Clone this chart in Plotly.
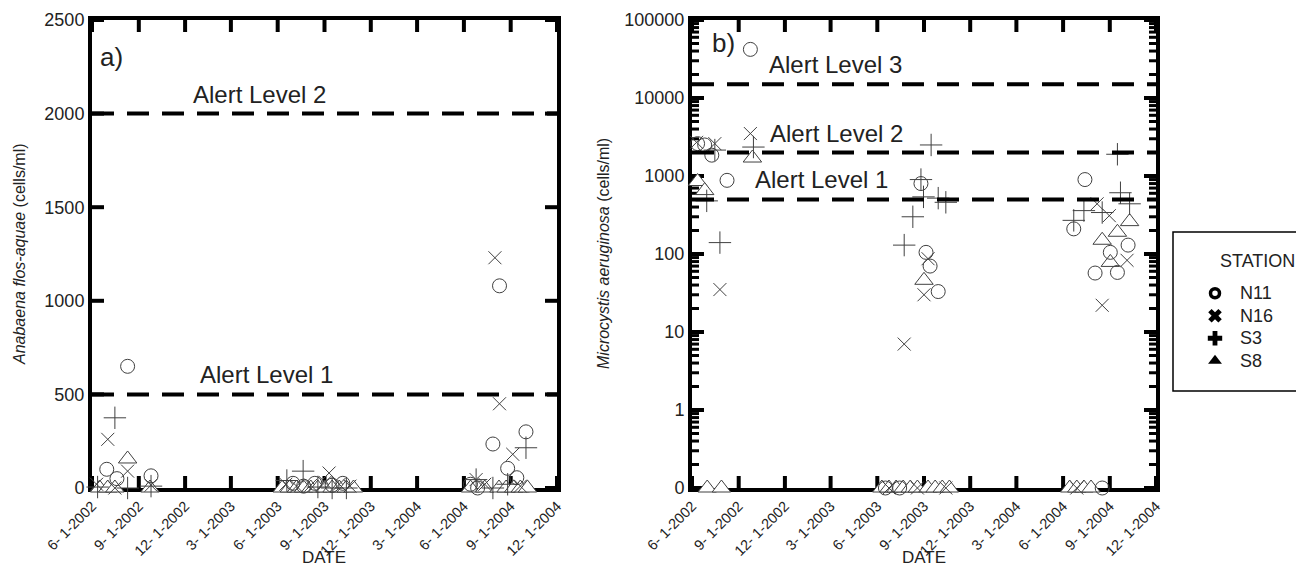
import math
import plotly.graph_objects as go

W, H = 1296, 569

# ---------------- tick labels ----------------
tick_dates = ["2002-06-01", "2002-09-01", "2002-12-01", "2003-03-01", "2003-06-01", "2003-09-01",
              "2003-12-01", "2004-03-01", "2004-06-01", "2004-09-01", "2004-12-01"]
tick_text = ["6- 1-2002", "9- 1-2002", "12- 1-2002", "3- 1-2003", "6- 1-2003", "9- 1-2003",
             "12- 1-2003", "3- 1-2004", "6- 1-2004", "9- 1-2004", "12- 1-2004"]
left_yticks = [0, 500, 1000, 1500, 2000, 2500]
right_yticks = [0.1, 1, 10, 100, 1000, 10000, 100000]
right_ytext = ["0", "1", "10", "100", "1000", "10000", "100000"]
right_minor_mult = [2, 3, 4, 5, 6, 7, 8, 9]

# ---------------- alert levels ----------------
left_alerts = [500, 2000]
left_alert_labels = ["Alert Level 1", "Alert Level 2"]
right_alerts = [500, 2000, 15000]
right_alert_labels = ["Alert Level 1", "Alert Level 2", "Alert Level 3"]

# ---------------- a) Anabaena flos-aquae (cells/ml) ----------------
a_n11_dates = ["2002-06-30", "2002-07-20", "2002-08-10", "2002-09-25",
               "2003-07-01", "2003-07-22", "2003-08-13", "2003-09-16", "2003-10-07",
               "2004-06-14", "2004-06-28", "2004-07-28", "2004-08-10", "2004-08-26", "2004-09-13", "2004-10-01"]
a_n11_vals = [100, 50, 650, 65,
              25, 10, 25, 15, 25,
              20, 0, 235, 1080, 105, 55, 300]

a_n16_dates = ["2002-06-10", "2002-07-02", "2002-07-16", "2002-08-10", "2002-09-25",
               "2003-06-17", "2003-07-08", "2003-08-05", "2003-09-02", "2003-09-10", "2003-09-30", "2003-10-21",
               "2004-06-25", "2004-07-12", "2004-08-01", "2004-08-10", "2004-09-05", "2004-09-20"]
a_n16_vals = [20, 260, 0, 90, 15,
              20, 10, 15, 30, 80, 20, 10,
              45, 20, 1230, 450, 180, 10]

a_s3_dates = ["2002-06-12", "2002-07-16", "2002-08-10", "2002-09-25",
              "2003-06-19", "2003-07-21", "2003-08-19", "2003-09-16", "2003-10-14",
              "2004-06-25", "2004-07-28", "2004-08-26", "2004-10-01"]
a_s3_vals = [5, 375, 0, 10,
             40, 90, 5, 0, 0,
             45, 0, 20, 215]

a_s8_dates = ["2002-06-16", "2002-07-02", "2002-07-16", "2002-08-10", "2002-09-23",
              "2003-06-10", "2003-06-24", "2003-07-08", "2003-07-22", "2003-08-05", "2003-08-19",
              "2003-09-02", "2003-09-16", "2003-09-30", "2003-10-14", "2003-10-28",
              "2004-06-14", "2004-07-12", "2004-08-09", "2004-08-23", "2004-09-07", "2004-09-20", "2004-10-04"]
a_s8_vals = [0, 0, 0, 155, 0,
             0, 0, 0, 0, 0, 0,
             0, 0, 0, 0, 0,
             0, 0, 0, 0, 0, 0, 0]

# ---------------- b) Microcystis aeruginosa (cells/ml) ----------------
b_n11_dates = ["2002-06-12", "2002-06-26", "2002-07-10", "2002-08-09", "2002-09-24",
               "2003-06-17", "2003-07-15", "2003-08-26", "2003-09-05", "2003-09-13", "2003-09-29",
               "2004-06-22", "2004-07-14", "2004-08-03", "2004-08-17", "2004-09-02", "2004-09-16", "2004-10-07"]
b_n11_vals = [2600, 2500, 1850, 880, 42000,
              0, 0, 800, 105, 70, 33,
              210, 900, 57, 0, 105, 58, 130]

b_n16_dates = ["2002-06-10", "2002-07-26", "2002-07-16", "2002-09-24",
               "2003-06-24", "2003-07-24", "2003-08-19", "2003-09-01", "2003-09-09", "2003-10-14",
               "2004-06-28", "2004-08-07", "2004-08-17", "2004-08-31", "2004-10-05"]
b_n16_vals = [2700, 35, 2600, 3500,
              0, 7, 0, 30, 87, 0,
              0, 440, 22, 310, 83]

b_s3_dates = ["2002-06-30", "2002-07-16", "2002-07-26", "2002-09-30",
              "2003-07-24", "2003-08-10", "2003-08-26", "2003-08-31", "2003-09-15", "2003-09-29", "2003-10-14",
              "2004-06-22", "2004-07-12", "2004-08-17", "2004-09-16", "2004-09-22", "2004-10-10"]
b_s3_vals = [480, 2150, 140, 2350,
             130, 300, 900, 540, 2500, 520, 460,
             270, 360, 340, 1900, 610, 440]

b_s8_dates = ["2002-06-12", "2002-06-26", "2002-07-01", "2002-07-29", "2002-09-28",
              "2003-06-10", "2003-06-24", "2003-07-08", "2003-07-22", "2003-08-05", "2003-08-19",
              "2003-09-01", "2003-09-09", "2003-09-23", "2003-10-07", "2003-10-21",
              "2004-06-14", "2004-06-28", "2004-07-12", "2004-07-26",
              "2004-08-17", "2004-09-02", "2004-09-16", "2004-10-10"]
b_s8_vals = [850, 650, 0, 0, 1700,
             0, 0, 0, 0, 0, 0,
             46, 0, 0, 0, 0,
             0, 0, 0, 0,
             150, 78, 190, 260]

stations = ["N11", "N16", "S3", "S8"]

# ---------------- styling ----------------
FONT = "Liberation Sans, Arial, Helvetica, sans-serif"
TXT = "#222222"
MK = "#404040"

def px_x(p):
    return p / W

def px_y(p):
    return 1 - p / H

# plot areas in pixels
L_X0, L_X1 = 92, 557
R_X0, R_X1 = 692, 1156
Y_TOP, Y_BOT = 20, 488

marker_styles = {
    "N11": dict(symbol="circle-open", size=14, color=MK, line=dict(width=1, color=MK)),
    "N16": dict(symbol="x-thin-open", size=13, color=MK, line=dict(width=1, color=MK)),
    "S3": dict(symbol="cross-thin-open", size=16, color=MK, line=dict(width=1, color=MK)),
    "S8": dict(symbol="triangle-up", size=16, color="white", line=dict(width=1, color=MK)),
}

fig = go.Figure()

left_data = {
    "N11": (a_n11_dates, a_n11_vals),
    "N16": (a_n16_dates, a_n16_vals),
    "S3": (a_s3_dates, a_s3_vals),
    "S8": (a_s8_dates, a_s8_vals),
}
right_data = {
    "N11": (b_n11_dates, b_n11_vals),
    "N16": (b_n16_dates, b_n16_vals),
    "S3": (b_s3_dates, b_s3_vals),
    "S8": (b_s8_dates, b_s8_vals),
}

for st in ["S8", "N11", "N16", "S3"]:
    d, v = left_data[st]
    fig.add_trace(go.Scatter(x=d, y=v, mode="markers", marker=marker_styles[st],
                             xaxis="x", yaxis="y", showlegend=False, cliponaxis=False,
                             hoverinfo="skip"))
for st in ["S8", "N11", "N16", "S3"]:
    d, v = right_data[st]
    vv = [val if val > 0 else 0.1 for val in v]  # zero values drawn on the "0" baseline
    fig.add_trace(go.Scatter(x=d, y=vv, mode="markers", marker=marker_styles[st],
                             xaxis="x2", yaxis="y2", showlegend=False, cliponaxis=False,
                             hoverinfo="skip"))

# legend entries (bold black symbols)
legend_styles = {
    "N11": dict(symbol="circle-open", size=9, color="black", line=dict(width=3.5, color="black")),
    "N16": dict(symbol="x", size=12, color="black", line=dict(width=0)),
    "S3": dict(symbol="cross", size=12, color="black", line=dict(width=0)),
    "S8": dict(symbol="triangle-up", size=12, color="black", line=dict(width=0)),
}
for st in stations:
    fig.add_trace(go.Scatter(x=[None], y=[None], mode="markers",
                             name="<span style='font-size:18px'>\u00a0" + st + "</span>",
                             marker=legend_styles[st], xaxis="x", yaxis="y", showlegend=True))

axis_common = dict(showline=True, linewidth=4, linecolor="black", mirror=True,
                   ticks="", showgrid=False, zeroline=False, layer="below traces",
                   tickfont=dict(family=FONT, size=18, color=TXT))

xcommon = dict(axis_common)
xcommon.update(type="date", tickmode="array", tickvals=tick_dates, ticktext=tick_text,
               tickangle=-45, range=["2002-06-01", "2004-12-01"],
               tickfont=dict(family=FONT, size=14.5, color=TXT))

fig.update_layout(
    width=W, height=H,
    margin=dict(l=0, r=0, t=0, b=0, autoexpand=False),
    paper_bgcolor="white", plot_bgcolor="white",
    font=dict(family=FONT, color=TXT),
    xaxis=dict(xcommon, domain=[px_x(L_X0), px_x(L_X1)], anchor="y"),
    yaxis=dict(axis_common, domain=[px_y(Y_BOT), px_y(Y_TOP)], anchor="x",
               range=[0, 2500], tickmode="array", tickvals=left_yticks),
    xaxis2=dict(xcommon, domain=[px_x(R_X0), px_x(R_X1)], anchor="y2"),
    yaxis2=dict(axis_common, domain=[px_y(Y_BOT), px_y(Y_TOP)], anchor="x2",
                type="log", range=[-1, 5], tickmode="array", tickvals=right_yticks,
                ticktext=right_ytext),
    legend=dict(x=px_x(1195), y=px_y(277), xanchor="left", yanchor="top",
                bgcolor="rgba(0,0,0,0)", borderwidth=0,
                font=dict(family=FONT, size=15, color=TXT),
                itemsizing="trace", tracegroupgap=0),
    showlegend=True,
)

# ---------------- inward tick marks (both sides, like the original frame) ----------------
shapes = []
MAJ, MIN_ = 12, 7
lw_x = L_X1 - L_X0
rw_x = R_X1 - R_X0
h_y = Y_BOT - Y_TOP

def tick(xref, yref, x0, x1, y0, y1, w):
    shapes.append(dict(type="line", xref=xref, yref=yref, x0=x0, x1=x1, y0=y0, y1=y1,
                       line=dict(color="black", width=w), layer="below"))

for xa, ya in [("x", "y"), ("x2", "y2")]:
    for d in tick_dates:
        tick(xa, ya + " domain", d, d, 0, MAJ / h_y, 4)
        tick(xa, ya + " domain", d, d, 1, 1 - MAJ / h_y, 4)
for v in left_yticks:
    tick("x domain", "y", 0, MAJ / lw_x, v, v, 4)
    tick("x domain", "y", 1, 1 - MAJ / lw_x, v, v, 4)
for v in right_yticks:
    tick("x2 domain", "y2", 0, MAJ / rw_x, v, v, 4)
    tick("x2 domain", "y2", 1, 1 - MAJ / rw_x, v, v, 4)
for dec in right_yticks[:-1]:
    for m in right_minor_mult:
        v = dec * m
        tick("x2 domain", "y2", 0, MIN_ / rw_x, v, v, 3)
        tick("x2 domain", "y2", 1, 1 - MIN_ / rw_x, v, v, 3)

for lvl in left_alerts:
    shapes.append(dict(type="line", xref="x domain", yref="y", x0=0, x1=1, y0=lvl, y1=lvl,
                       line=dict(color="black", width=4, dash="22px,13px")))
for lvl in right_alerts:
    shapes.append(dict(type="line", xref="x2 domain", yref="y2", x0=0, x1=1, y0=lvl, y1=lvl,
                       line=dict(color="black", width=4, dash="22px,13px")))
# legend frame
shapes.append(dict(type="rect", xref="paper", yref="paper", x0=px_x(1173), x1=px_x(1330),
                   y0=px_y(391), y1=px_y(232), line=dict(color="black", width=1.5),
                   fillcolor="rgba(0,0,0,0)"))
fig.update_layout(shapes=shapes)

ann = []
left_label_x = [0.375, 0.36]
for lvl, lab, fx in zip(left_alerts, left_alert_labels, left_label_x):
    ann.append(dict(xref="x domain", yref="y", x=fx, y=lvl, text=lab, showarrow=False,
                    xanchor="center", yanchor="bottom", yshift=4,
                    font=dict(family=FONT, size=24, color=TXT)))
right_label_x = [0.28, 0.312, 0.31]
for lvl, lab, fx in zip(right_alerts, right_alert_labels, right_label_x):
    ann.append(dict(xref="x2 domain", yref="y2", x=fx, y=math.log10(lvl), text=lab, showarrow=False,
                    xanchor="center", yanchor="bottom", yshift=4,
                    font=dict(family=FONT, size=24, color=TXT)))
ann.append(dict(xref="x domain", yref="y domain", x=0.013, y=0.921, text="a)", showarrow=False,
                xanchor="left", yanchor="middle", font=dict(family=FONT, size=26, color=TXT)))
ann.append(dict(xref="x2 domain", yref="y2 domain", x=0.039, y=0.951, text="b)", showarrow=False,
                xanchor="left", yanchor="middle", font=dict(family=FONT, size=26, color=TXT)))
ann.append(dict(xref="paper", yref="paper", x=px_x(19), y=px_y(254),
                text="<i>Anabaena flos-aquae</i> (cells/ml)", textangle=-90, showarrow=False,
                xanchor="center", yanchor="middle", font=dict(family=FONT, size=16, color=TXT)))
ann.append(dict(xref="paper", yref="paper", x=px_x(603), y=px_y(254),
                text="<i>Microcystis aeruginosa</i> (cells/ml)", textangle=-90, showarrow=False,
                xanchor="center", yanchor="middle", font=dict(family=FONT, size=16, color=TXT)))
ann.append(dict(xref="paper", yref="paper", x=px_x((L_X0 + L_X1) / 2), y=px_y(557), text="DATE",
                showarrow=False, xanchor="center", yanchor="middle",
                font=dict(family=FONT, size=17, color=TXT)))
ann.append(dict(xref="paper", yref="paper", x=px_x((R_X0 + R_X1) / 2), y=px_y(557), text="DATE",
                showarrow=False, xanchor="center", yanchor="middle",
                font=dict(family=FONT, size=17, color=TXT)))
ann.append(dict(xref="paper", yref="paper", x=px_x(1218), y=px_y(261), text="STATION",
                showarrow=False, xanchor="left", yanchor="middle",
                font=dict(family=FONT, size=18, color=TXT)))
fig.update_layout(annotations=ann)

fig.write_html("out.html")
